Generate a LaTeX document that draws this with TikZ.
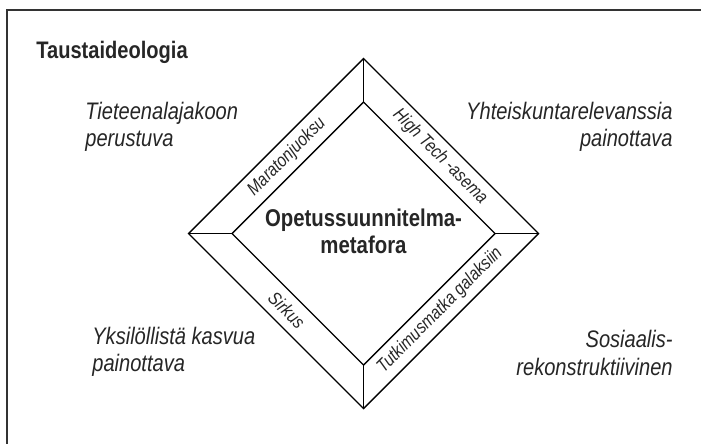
\documentclass[tikz,border=0pt]{standalone}
\usepackage{fontspec}
\setmainfont{Liberation Sans}[FakeStretch=0.84]
\usetikzlibrary{calc}

\tikzset{
  ideo/.style={font=\fontsize{13.6}{15.5}\selectfont\itshape,text=black!85,inner sep=0pt},
  band/.style={font=\fontsize{10.5}{12}\selectfont\itshape,text=black!85,inner sep=0pt},
}

\begin{document}
\begin{tikzpicture}
  \useasboundingbox (0,0) rectangle (14.02,-8.88);
  % frame, open to the right and below
  \draw[line width=1.1pt,black!80] (14.02,-0.2) -- (0.14,-0.2) -- (0.14,-8.88);
  \node[font=\fontsize{13.6}{15.5}\selectfont\bfseries,text=black!85,inner sep=0pt,anchor=base west](tausta)at(0.72,-1.17){Taustaideologia};
  % the four ideologies
  \node[ideo,align=left,anchor=west](tiede)at(1.70,-2.54){Tieteenalajakoon\\perustuva};
  \node[ideo,align=right,anchor=east](yhteis)at(13.46,-2.54){Yhteiskuntarelevanssia\\painottava};
  \node[ideo,align=left,anchor=west](yksil)at(1.84,-7.03){Yksilöllistä kasvua\\painottava};
  \node[ideo,align=right,anchor=east](sosiaal)at(13.46,-7.06){Sosiaalis-\\rekonstruktiivinen};
  % diamond
  \begin{scope}[shift={(7.27,-4.67)},line width=0.8pt]
    \draw (90:3.5) -- (0:3.5) -- (270:3.5) -- (180:3.5) -- cycle;
    \draw (90:2.63) -- (0:2.63) -- (270:2.63) -- (180:2.63) -- cycle;
    \foreach \a in {0,90,180,270}
      \draw (\a:2.63) -- (\a:3.5);
    \node[band,rotate=45](mara)at(135:2.167){Maratonjuoksu};
    \node[band,rotate=-45](hitech)at(45:2.167){High Tech -asema};
    \node[band,rotate=-45](sirkus)at(225:2.167){Sirkus};
    \node[band,rotate=45](galaksi)at(315:2.167){Tutkimusmatka galaksiin};
    \node[font=\fontsize{13.8}{15.5}\selectfont\bfseries,text=black!85,align=center,inner sep=0pt](meta)at(0,0.05){Opetussuunnitelma-\\metafora};
  \end{scope}
\end{tikzpicture}
\end{document}
